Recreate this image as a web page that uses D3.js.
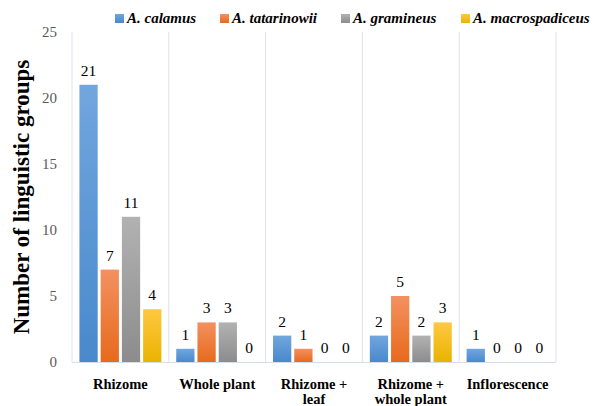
<!DOCTYPE html>
<html>
<head>
<meta charset="utf-8">
<script src="https://cdn.jsdelivr.net/npm/d3@7"></script>
<style>
	body { margin: 0; background: #fff; font-family: "Times New Roman", "Liberation Serif", serif; }
</style>
</head>
<body>
<div class="chart"></div>
<script>
const categories = [["Rhizome"], ["Whole plant"], ["Rhizome +", "leaf"], ["Rhizome +", "whole plant"], ["Inflorescence"]];
const seriesNames = ["A. calamus", "A. tatarinowii", "A. gramineus", "A. macrospadiceus"];
const calamus = [21, 1, 2, 2, 1];
const tatarinowii = [7, 3, 1, 5, 0];
const gramineus = [11, 3, 0, 2, 0];
const macrospadiceus = [4, 0, 0, 3, 0];
const yTicks = [0, 5, 10, 15, 20, 25];

const seriesValues = [calamus, tatarinowii, gramineus, macrospadiceus];
const colors = [
	["#72a6de", "#4889cc"],
	["#f39160", "#e76a1c"],
	["#b2b2b2", "#8c8c8c"],
	["#ffc842", "#e9b300"]
];
const serif = "Times New Roman, Liberation Serif, serif";

let width = 602, height = 406;
let margin = {top: 32, right: 46, bottom: 44, left: 72};

let svg = d3.select(".chart")
	.append("svg")
	.attr("width", width)
	.attr("height", height)
	.attr("font-family", serif);

let defs = svg.append("defs");
colors.forEach(function (c, i) {
	let g = defs.append("linearGradient")
		.attr("id", "grad" + i)
		.attr("x1", 0).attr("y1", 0).attr("x2", 0).attr("y2", 1);
	g.append("stop").attr("offset", "0%").attr("stop-color", c[0]);
	g.append("stop").attr("offset", "100%").attr("stop-color", c[1]);
});

let x0 = d3.scaleBand()
	.domain(d3.range(categories.length))
	.range([margin.left, width - margin.right]);

let x1 = d3.scaleBand()
	.domain(d3.range(seriesNames.length))
	.range([0, x0.bandwidth()])
	.paddingInner(0.14)
	.paddingOuter(0.35);

let y = d3.scaleLinear()
	.domain([0, 25])
	.range([height - margin.bottom, margin.top]);

// category separators
svg.append("g")
	.selectAll("line")
	.data(d3.range(categories.length + 1))
	.enter().append("line")
	.attr("x1", d => margin.left + d * x0.step())
	.attr("x2", d => margin.left + d * x0.step())
	.attr("y1", margin.top)
	.attr("y2", height - margin.bottom)
	.attr("stroke", "#dde3ea")
	.attr("stroke-width", 1);

svg.append("line")
	.attr("x1", margin.left)
	.attr("x2", width - margin.right)
	.attr("y1", height - margin.bottom + 0.5)
	.attr("y2", height - margin.bottom + 0.5)
	.attr("stroke", "#d9dee6");

// y ticks
svg.append("g")
	.selectAll("text")
	.data(yTicks)
	.enter().append("text")
	.attr("x", margin.left - 15)
	.attr("y", d => y(d) + 5)
	.attr("text-anchor", "end")
	.attr("font-family", serif)
	.attr("font-size", 15)
	.attr("fill", "#595959")
	.text(d => d);

// bars
seriesValues.forEach(function (vals, s) {
	let g = svg.append("g");
	g.selectAll("rect")
		.data(vals)
		.enter().append("rect")
		.attr("x", (d, i) => x0(i) + x1(s))
		.attr("y", d => y(d))
		.attr("width", x1.bandwidth())
		.attr("height", d => y(0) - y(d))
		.attr("fill", "url(#grad" + s + ")");
	g.selectAll("text")
		.data(vals)
		.enter().append("text")
		.attr("x", (d, i) => x0(i) + x1(s) + x1.bandwidth() / 2)
		.attr("y", d => y(d) - 9)
		.attr("text-anchor", "middle")
		.attr("font-family", serif)
		.attr("font-size", 15.5)
		.attr("fill", "#000")
		.text(d => d);
});

// category labels
let cat = svg.append("g")
	.selectAll("text")
	.data(categories)
	.enter().append("text")
	.attr("x", (d, i) => x0(i) + x0.bandwidth() / 2)
	.attr("y", height - margin.bottom + 27)
	.attr("text-anchor", "middle")
	.attr("font-family", serif)
	.attr("font-size", 14.5)
	.attr("font-weight", "bold")
	.attr("fill", "#000");
cat.selectAll("tspan")
	.data(d => d)
	.enter().append("tspan")
	.attr("x", function () { return d3.select(this.parentNode).attr("x"); })
	.attr("dy", (d, i) => i === 0 ? 0 : 15)
	.text(d => d);

// y axis title
svg.append("text")
	.attr("transform", "translate(29," + ((margin.top + height - margin.bottom) / 2) + ") rotate(-90)")
	.attr("text-anchor", "middle")
	.attr("font-family", serif)
	.attr("font-size", 23)
	.attr("font-weight", "bold")
	.attr("fill", "#000")
	.text("Number of linguistic groups");

// legend
const legendX = [115, 220, 341, 461];
let legend = svg.append("g");
seriesNames.forEach(function (name, i) {
	legend.append("rect")
		.attr("x", legendX[i])
		.attr("y", 14)
		.attr("width", 9)
		.attr("height", 9)
		.attr("fill", "url(#grad" + i + ")");
	legend.append("text")
		.attr("x", legendX[i] + 12)
		.attr("y", 23)
		.attr("font-family", serif)
		.attr("font-size", 15)
		.attr("font-weight", "bold")
		.attr("font-style", "italic")
		.attr("fill", "#000")
		.text(name);
});
</script>
</body>
</html>
